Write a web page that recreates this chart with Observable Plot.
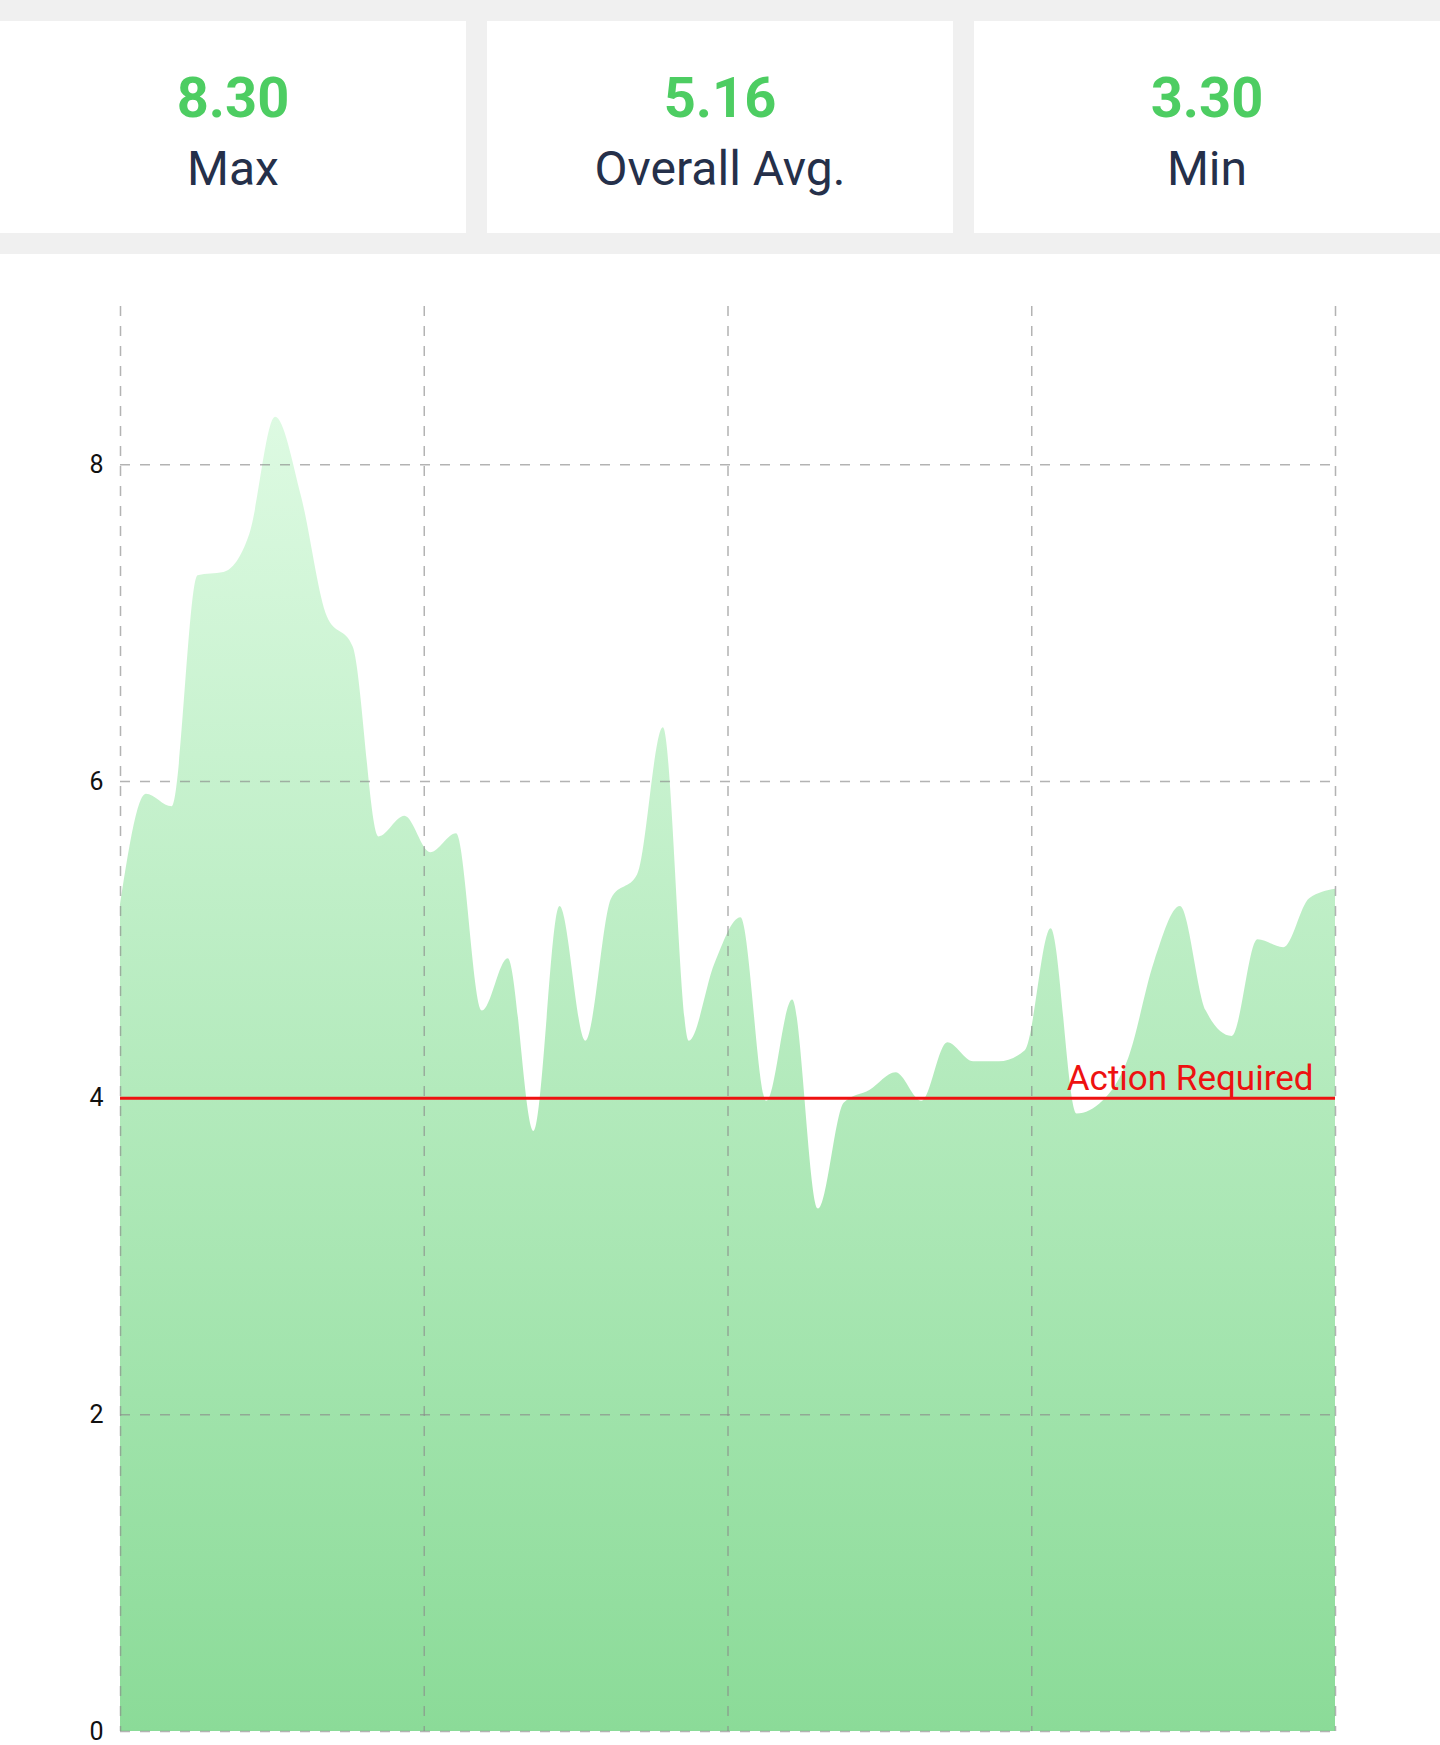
<!DOCTYPE html>
<html>
<head>
<meta charset="utf-8">
<script src="https://cdn.jsdelivr.net/npm/d3@7"></script>
<script src="https://cdn.jsdelivr.net/npm/@observablehq/plot@0.6"></script>
<style>
  body { margin: 0; background: #fff; font-family: Roboto, sans-serif; }
  .stats { display: flex; gap: 21px; background: #f0f0f0; padding: 21px 0; width: 1440px; }
  .card { background: #fff; width: 466px; height: 212px; box-sizing: border-box; padding-top: 49px; text-align: center; }
  .card .val { font-size: 56px; line-height: 56px; font-weight: 700; color: #4dcd62; margin-bottom: 19px; }
  .card .lab { font-size: 48px; line-height: 48px; color: #25304a; }
  #chart svg { display: block; }
</style>
</head>
<body>
<div class="stats" id="stats"></div>
<div id="chart"></div>
<script>
// valores de la serie (uno por muestra)
const values = [5.22, 5.92, 5.84, 7.30, 7.32, 7.56, 8.30, 7.80, 7.04, 6.85,
  5.65, 5.78, 5.55, 5.67, 4.55, 4.88, 3.79, 5.21, 4.36, 5.26,
  5.41, 6.34, 4.36, 4.85, 5.14, 3.98, 4.62, 3.30, 3.97, 4.05,
  4.16, 3.98, 4.35, 4.23, 4.23, 4.30, 5.07, 3.90, 3.98, 4.25,
  4.86, 5.21, 4.55, 4.39, 5.00, 4.95, 5.26, 5.32]

const statValues = ["8.30", "5.16", "3.30"]
const statLabels = ["Max", "Overall Avg.", "Min"]

const yTicks = [0, 2, 4, 6, 8]
const xGridTicks = [0, 11.75, 23.5, 35.25, 47]

const threshold = 4
const thresholdLabel = "Action Required"

// tarjetas de arriba
const stats = d3.select("#stats")
statValues.forEach((v, i) => {
  const card = stats.append("div").attr("class", "card")
  card.append("div").attr("class", "val").text(v)
  card.append("div").attr("class", "lab").text(statLabels[i])
})

const data = values.map((v, i) => ({i, v}))
const gridStyle = {stroke: "#8a8a8a", strokeOpacity: 0.65, strokeWidth: 1.5, strokeDasharray: "10,10"}

let chart = Plot.plot({
  width: 1440,
  height: 1491,
  marginTop: 52,
  marginBottom: 14,
  marginLeft: 120,
  marginRight: 105,
  style: {fontFamily: "Roboto", fontSize: "25px", background: "white", color: "#111"},
  x: {domain: [0, values.length - 1], axis: null},
  y: {domain: [0, 9], axis: null},
  marks: [
    Plot.areaY(data, {x: "i", y: "v", curve: "monotone-x", fill: "url(#areaGrad)"}),
    Plot.gridY(yTicks, gridStyle),
    Plot.gridX(xGridTicks, gridStyle),
    Plot.ruleY([threshold], {stroke: "#ee1111", strokeWidth: 3}),
    Plot.text([thresholdLabel], {
      x: values.length - 1, y: threshold, text: d => d,
      textAnchor: "end", lineAnchor: "bottom", dx: -22, dy: -8,
      fill: "#ee1111", fontSize: 35
    }),
    Plot.axisY(yTicks, {tickSize: 0, tickPadding: 17, fontSize: 25, label: null, tickFormat: d => String(d)})
  ]
})

// degradado del area
const grad = d3.select(chart).insert("defs", ":first-child")
  .append("linearGradient")
  .attr("id", "areaGrad")
  .attr("x1", 0).attr("y1", 0).attr("x2", 0).attr("y2", 1)
grad.append("stop").attr("offset", "0%").attr("stop-color", "#ddfae2")
grad.append("stop").attr("offset", "100%").attr("stop-color", "#8bdb98")

d3.select('#chart').append(() => chart)
</script>
</body>
</html>
